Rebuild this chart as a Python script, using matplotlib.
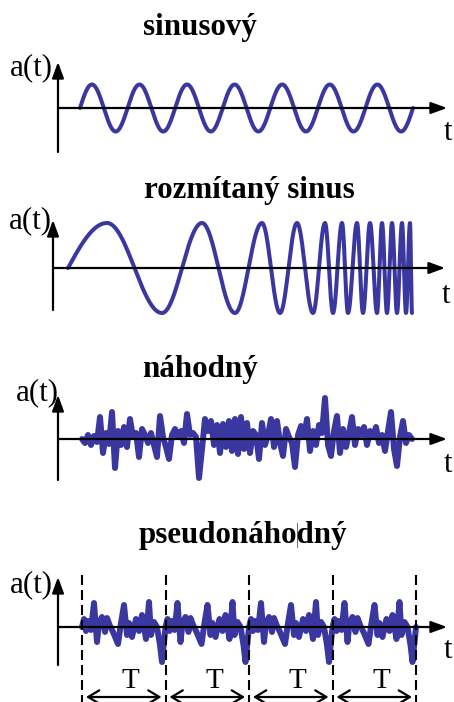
import numpy as np
import matplotlib
matplotlib.use('Agg')
import matplotlib.pyplot as plt

BLUE = '#3a38a0'
SERIF = ['Liberation Serif', 'DejaVu Serif']

titles = ['sinusový', 'rozmítaný sinus', 'náhodný', 'pseudonáhodný']

# sinusovy signal: 7 whole periods
sine_start, sine_end = 22, 355
sine_cycles = 7
sine_amp = 23.5

# rozmitany sinus: times of successive peaks / troughs
chirp_start, chirp_end = 15, 359
chirp_extrema = [54, 109, 149, 182, 209, 227, 244, 260, 272, 280, 289, 295,
                 304, 310, 317, 324, 329, 334, 339, 344, 349, 353, 357]
chirp_amp = 45

# nahodny signal, sampled every 3 time units
noise_start, noise_end = 24, 354
noise_a = [0, -4, 4, -6, 3, -3, 22, -14, 6, -5, 27, -29, 8, -6, 12, -8, 20, 2,
           6, -18, 10, 4, -4, 6, -6, -18, 23, 2, -8, -20, 4, 10, 2, 8, -4, 25,
           4, 6, 2, -39, -10, 20, 8, 18, -6, 14, -14, 15, -8, 18, -12, 20, -15,
           22, -10, 16, -14, 8, 4, -20, 16, -6, 4, 20, -8, 18, -4, -17, 10, 2,
           -4, -28, 4, 13, 2, 20, -12, 8, -6, 14, 6, 41, -6, -17, 8, 23, -14,
           10, -8, 6, 22, -6, 10, 4, 12, -6, 8, 2, 12, -4, 4, -12, 8, 27, -10,
           -27, 2, 18, -4, 4, 0]

# pseudonahodny: one period of the pattern, repeated 4x
pseudo_start = 24
pseudo_T = 83.5
pseudo_periods = 4
pseudo_t = [0, 2, 4, 6, 9, 12, 15, 17, 20, 23, 25, 28, 31, 36, 39, 42, 45,
            47, 50, 54, 57, 60, 64, 67, 69, 72, 75, 78, 80]
pseudo_a = [0, 8, -4, 6, -3, 24, -15, 4, 10, -5, 9, 1, -5, -17, 4, 22, -8,
            4, -10, 8, -4, 12, -12, 25, -8, 5, 0, -18, -35]

fig = plt.figure(figsize=(4.54, 7.02), dpi=100)

# (top px, bottom px, origin x px, origin y px)
panels = [(0, 170, 58, 108), (170, 340, 53, 268), (340, 510, 58, 439), (510, 702, 58, 627)]
axes = []
for top, bot, ox, oy in panels:
    ax = fig.add_axes([0, 1 - bot / 702, 1, (bot - top) / 702])
    ax.set_xlim(-ox, 454 - ox)
    ax.set_ylim(oy - bot, oy - top)
    ax.axis('off')
    axes.append(ax)


def draw_axes(ax, ylow, yhigh, xhigh):
    kw = dict(arrowstyle='-|>,head_length=0.6,head_width=0.22', lw=1.6, color='black',
              shrinkA=0, shrinkB=0, mutation_scale=16)
    ax.annotate('', xy=(0, yhigh), xytext=(0, ylow), arrowprops=kw)
    ax.annotate('', xy=(xhigh, 0), xytext=(0, 0), arrowprops=kw)


# --- sinusovy ---
ax = axes[0]
draw_axes(ax, -44, 46, 389)
t = np.linspace(sine_start, sine_end, 800)
ax.plot(t, sine_amp * np.sin(2 * np.pi * sine_cycles * (t - sine_start) / (sine_end - sine_start)),
        color=BLUE, lw=2.9, solid_capstyle='round')

# --- rozmitany sinus ---
ax = axes[1]
draw_axes(ax, -42, 48, 392)
knots = [chirp_start] + chirp_extrema + [chirp_end]
phases = [0] + [np.pi / 2 + k * np.pi for k in range(len(chirp_extrema))] + [(len(chirp_extrema) + 0.5) * np.pi]
t = np.linspace(chirp_start, chirp_end, 3000)
ax.plot(t, chirp_amp * np.sin(np.interp(t, knots, phases)), color=BLUE, lw=2.9,
        solid_capstyle='round')

# --- nahodny ---
ax = axes[2]
draw_axes(ax, -41, 44, 389)
t = np.linspace(noise_start, noise_end, len(noise_a))
ax.plot(t, noise_a, color=BLUE, lw=4.3, solid_joinstyle='round', solid_capstyle='round')

# --- pseudonahodny ---
ax = axes[3]
draw_axes(ax, -38, 50, 389)
pt = np.concatenate([pseudo_start + k * pseudo_T + np.array(pseudo_t) for k in range(pseudo_periods)]
                    + [[pseudo_start + pseudo_periods * pseudo_T]])
pa = np.concatenate([pseudo_a] * pseudo_periods + [[0]])
ax.plot(pt, pa, color=BLUE, lw=4.3, solid_joinstyle='round', solid_capstyle='round')
for k in range(pseudo_periods + 1):
    x = pseudo_start + k * pseudo_T
    ax.plot([x, x], [52, -80], color='black', lw=1.5, dashes=(4.8, 2.4))
for k in range(pseudo_periods):
    x0 = pseudo_start + k * pseudo_T
    ax.annotate('', xy=(x0 + 4, -70), xytext=(x0 + pseudo_T - 4, -70),
                arrowprops=dict(arrowstyle='<->,head_length=0.5,head_width=0.3', lw=1.6,
                                color='black', shrinkA=0, shrinkB=0, mutation_scale=16))
    ax.text(x0 + pseudo_T / 2 + 7, -61, 'T', fontsize=21, family=SERIF,
            ha='center', va='baseline')
# text cursor inside the title
ax.plot([239, 239], [104, 80], color='#555555', lw=0.6)

# titles and labels (x centre, baseline) in px
title_pos = [(200, 35), (249, 198), (200, 377), (243, 543)]
alabel_pos = [(31, 75), (30, 228), (37, 400), (31, 592)]
tlabel_pos = [(444, 140), (442, 303), (444, 472), (444, 658)]
for ax, (top, bot, ox, oy), tp, ap, tl, title in zip(axes, panels, title_pos, alabel_pos, tlabel_pos, titles):
    ax.text(tp[0] - ox, oy - tp[1], title, fontsize=22.3, fontweight='bold', family=SERIF,
            ha='center', va='baseline')
    ax.text(ap[0] - ox, oy - ap[1], 'a(t)', fontsize=22.3, family=SERIF,
            ha='center', va='baseline')
    ax.text(tl[0] - ox, oy - tl[1], 't', fontsize=22.3, family=SERIF,
            ha='left', va='baseline', clip_on=False)

fig.savefig('out.png', dpi=100)
